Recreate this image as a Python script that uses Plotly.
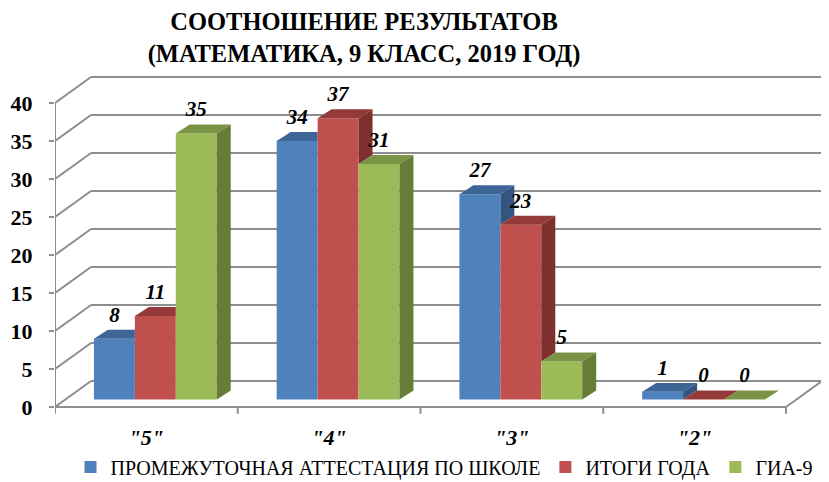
import plotly.graph_objects as go

# ---------------- data ----------------
categories = ['"5"', '"4"', '"3"', '"2"']
series_names = ["ПРОМЕЖУТОЧНАЯ АТТЕСТАЦИЯ ПО ШКОЛЕ", "ИТОГИ ГОДА", "ГИА-9"]
school_attestation = [8, 34, 27, 1]
year_results = [11, 37, 23, 0]
gia9_results = [35, 31, 5, 0]
y_ticks = [0, 5, 10, 15, 20, 25, 30, 35, 40]
title_text = "СООТНОШЕНИЕ РЕЗУЛЬТАТОВ<br>(МАТЕМАТИКА, 9 КЛАСС, 2019 ГОД)"

series_values = [school_attestation, year_results, gia9_results]

# ---------------- style ----------------
front_colors = ["#4F81BD", "#C0504D", "#9BBB59"]
top_colors = ["#3D6595", "#953A38", "#7A9446"]
side_colors = ["#34557F", "#7D302E", "#667C37"]
grid_color = "#8E8E8E"
FONT = "Liberation Serif, Times New Roman, serif"

# pseudo-3D geometry (data units)
DX, DY = 0.197, 3.42      # depth of the walls
SX, SY = 0.049, 0.99      # offset of the bar front faces from the front plane
BX, BY = 0.0765, 1.18     # depth of the bars
W = 0.224                 # bar width
Y_MAX = 40

K = list(range(len(categories)))
fig = go.Figure()

# front faces (real bar traces)
for i, (name, vals) in enumerate(zip(series_names, series_values)):
    fig.add_trace(go.Bar(
        x=K, y=vals, base=SY, width=W, offset=SX + (i - 1.5) * W,
        name=name, marker=dict(color=front_colors[i], line=dict(width=0)),
        hoverinfo="skip",
    ))

# top and side faces, clipped where the neighbouring bar hides them
for i, vals in enumerate(series_values):
    nxt = series_values[i + 1] if i + 1 < len(series_values) else None
    tx, ty, sx, sy = [], [], [], []
    for k, v in zip(K, vals):
        xl = k + SX + (i - 1.5) * W
        xr = xl + W
        if nxt is not None:
            vn = nxt[k]
            c = min(max(vn, v), v + BY)
            low = max(vn, 0)
        else:
            c = v
            low = 0
        px = [xl, xr, xr, xr + (c - v) * BX / BY, xr + BX, xl + BX, xl]
        py = [v, v, c, c, v + BY, v + BY, v]
        tx += px + [None]
        ty += [p + SY for p in py] + [None]
        if v > low:
            px = [xr, xr, xr + BX, xr + BX, xr]
            py = [low, v, v + BY, low + BY, low]
            sx += px + [None]
            sy += [p + SY for p in py] + [None]
    fig.add_trace(go.Scatter(x=tx, y=ty, mode="lines", fill="toself",
                             fillcolor=top_colors[i], line=dict(width=0),
                             showlegend=False, hoverinfo="skip"))
    if sx:
        fig.add_trace(go.Scatter(x=sx, y=sy, mode="lines", fill="toself",
                                 fillcolor=side_colors[i], line=dict(width=0),
                                 showlegend=False, hoverinfo="skip"))

# data labels
for i, vals in enumerate(series_values):
    fig.add_trace(go.Scatter(
        x=[k + SX + (i - 1) * W for k in K],
        y=[v + SY + 2.95 for v in vals],
        text=[str(v) for v in vals], mode="text",
        textfont=dict(family=FONT, size=21, color="black", weight="bold", style="italic"),
        showlegend=False, hoverinfo="skip", cliponaxis=False,
    ))

# walls, floor and axis lines
shapes = []
line = dict(color=grid_color, width=2)
x0, x1 = -0.5, len(categories) - 0.5
for g in y_ticks:
    shapes.append(dict(type="line", x0=x0 + DX, x1=x1 + DX, y0=g + DY, y1=g + DY,
                       xref="x", yref="y", line=line, layer="below"))
    shapes.append(dict(type="line", x0=x0, x1=x0 + DX, y0=g, y1=g + DY,
                       xref="x", yref="y", line=line, layer="below"))
shapes.append(dict(type="line", x0=x0, x1=x0, y0=0, y1=Y_MAX, xref="x", yref="y",
                   line=line, layer="below"))
shapes.append(dict(type="line", x0=x0, x1=x1, y0=0, y1=0, xref="x", yref="y",
                   line=line, layer="below"))
shapes.append(dict(type="line", x0=x1, x1=x1 + DX, y0=0, y1=DY, xref="x", yref="y",
                   line=line, layer="below"))
for b in range(len(categories) + 1):
    shapes.append(dict(type="line", x0=x0 + b, x1=x0 + b, y0=0, y1=-0.9, xref="x", yref="y",
                       line=line, layer="below"))

fig.update_layout(
    width=829, height=482,
    margin=dict(l=47, r=15, t=64, b=68, autoexpand=False),
    paper_bgcolor="white", plot_bgcolor="white",
    barmode="overlay",
    shapes=shapes,
    showlegend=True,
    title=dict(text=title_text, x=356 / 829, xref="container", xanchor="center",
               y=1 - 22 / 482, yref="container", yanchor="middle",
               font=dict(family=FONT, size=24.5, color="black", weight="bold")),
    legend=dict(orientation="h", xref="container", x=436 / 829, xanchor="center",
                yref="container", y=23 / 482, yanchor="middle",
                font=dict(family=FONT, size=20, color="black"),
                bgcolor="rgba(0,0,0,0)", itemclick=False, itemdoubleclick=False),
    xaxis=dict(range=[x0, x1 + DX], tickvals=K, ticktext=categories,
               showgrid=False, zeroline=False, showline=False, ticks="",
               tickfont=dict(family=FONT, size=22, color="black", weight="bold", style="italic"),
               fixedrange=True),
    yaxis=dict(range=[-1.974, 44.08], tickvals=y_ticks, showgrid=False, zeroline=False,
               showline=False, ticks="outside", ticklen=5, tickwidth=2, tickcolor=grid_color,
               ticklabelstandoff=12,
               tickfont=dict(family=FONT, size=22, color="black", weight="bold"),
               fixedrange=True),
)

fig.write_html("out.html")
